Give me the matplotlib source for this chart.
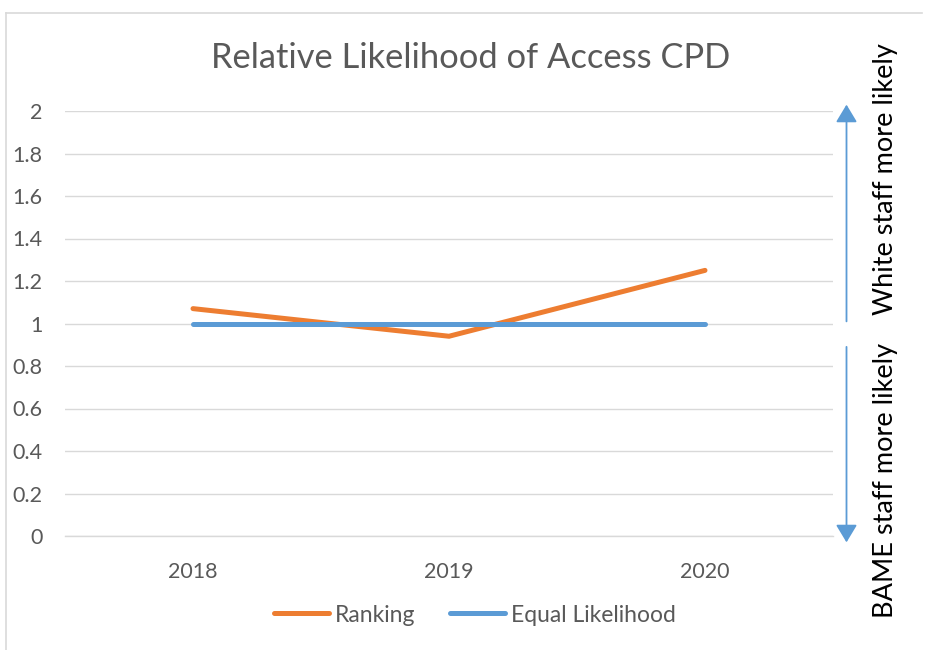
import matplotlib
matplotlib.use("Agg")
import matplotlib.pyplot as plt
from matplotlib.lines import Line2D

# Data
years = ["2018", "2019", "2020"]
ranking = [1.07, 0.94, 1.25]
equal_likelihood = [1.0, 1.0, 1.0]
y_ticks = [0, 0.2, 0.4, 0.6, 0.8, 1, 1.2, 1.4, 1.6, 1.8, 2]
y_tick_labels = ["0", "0.2", "0.4", "0.6", "0.8", "1", "1.2", "1.4", "1.6", "1.8", "2"]

ORANGE = "#ED7D31"
BLUE = "#5B9BD5"
GREY_TEXT = "#595959"
GRID = "#D9D9D9"

plt.rcParams["font.family"] = ["Lato", "DejaVu Sans"]

W, H = 925, 650
fig = plt.figure(figsize=(W / 100, H / 100), dpi=100)

def fx(px):
    return px / W

def fy(py):
    return 1 - py / H

ax = fig.add_axes([fx(65), fy(536), fx(833) - fx(65), fy(111) - fy(536)])

x = list(range(len(years)))
ax.plot(x, ranking, color=ORANGE, lw=3.6, solid_capstyle="round",
        solid_joinstyle="miter", zorder=3, label="Ranking")
ax.plot(x, equal_likelihood, color=BLUE, lw=3.6, solid_capstyle="round",
        zorder=4, label="Equal Likelihood")

ax.set_xlim(-0.5, len(years) - 0.5)
ax.set_ylim(0, 2)
ax.set_xticks(x)
ax.set_xticklabels(years)
ax.set_yticks(y_ticks)
ax.set_yticklabels(y_tick_labels)
ax.tick_params(axis="both", length=0, labelsize=15.5, labelcolor=GREY_TEXT)
ax.tick_params(axis="y", pad=16)
ax.tick_params(axis="x", pad=19)
ax.yaxis.grid(True, color=GRID, lw=1.0)
ax.set_axisbelow(True)
for s in ["top", "right", "left"]:
    ax.spines[s].set_visible(False)
ax.spines["bottom"].set_color(GRID)
ax.spines["bottom"].set_linewidth(1.0)

# Title
fig.text(fx(471), fy(58), "Relative Likelihood of Access CPD", ha="center",
         va="center", fontsize=24.8, color=GREY_TEXT)

# Chart frame (top and left edges)
fig.add_artist(Line2D([fx(6), fx(922)], [fy(13), fy(13)], color=GRID, lw=1.2))
fig.add_artist(Line2D([fx(6), fx(6)], [fy(13), fy(650)], color=GRID, lw=1.2))

# Direction arrows beside the plot
trans = ax.get_yaxis_transform()
ax_x = (846.5 - 65) / (833 - 65)
arrow_style = "-|>,head_length=1.08,head_width=0.65"
ax.annotate("", xy=(ax_x, 2.03), xytext=(ax_x, 1.01), xycoords=trans,
            textcoords=trans, annotation_clip=False,
            arrowprops=dict(arrowstyle=arrow_style, color=BLUE, lw=1.3,
                            mutation_scale=10, shrinkA=0, shrinkB=0))
ax.annotate("", xy=(ax_x, -0.03), xytext=(ax_x, 0.89), xycoords=trans,
            textcoords=trans, annotation_clip=False,
            arrowprops=dict(arrowstyle=arrow_style, color=BLUE, lw=1.3,
                            mutation_scale=10, shrinkA=0, shrinkB=0))

fig.text(fx(886), fy(179), "White staff more likely", rotation=90,
         ha="center", va="center", fontsize=19.5, color="black")
fig.text(fx(886), fy(480), "BAME staff more likely", rotation=90,
         ha="center", va="center", fontsize=19.5, color="black")

# Legend
handles = [Line2D([], [], color=ORANGE, lw=3.6, solid_capstyle="round"),
           Line2D([], [], color=BLUE, lw=3.6, solid_capstyle="round")]
leg = fig.legend(handles, ["Ranking", "Equal Likelihood"], loc="center",
                 bbox_to_anchor=(fx(475), fy(615)), ncol=2, frameon=False,
                 fontsize=16.5, handlelength=2.4, handletextpad=0.25,
                 columnspacing=1.5)
for t in leg.get_texts():
    t.set_color(GREY_TEXT)

fig.savefig("out.png", dpi=100)
